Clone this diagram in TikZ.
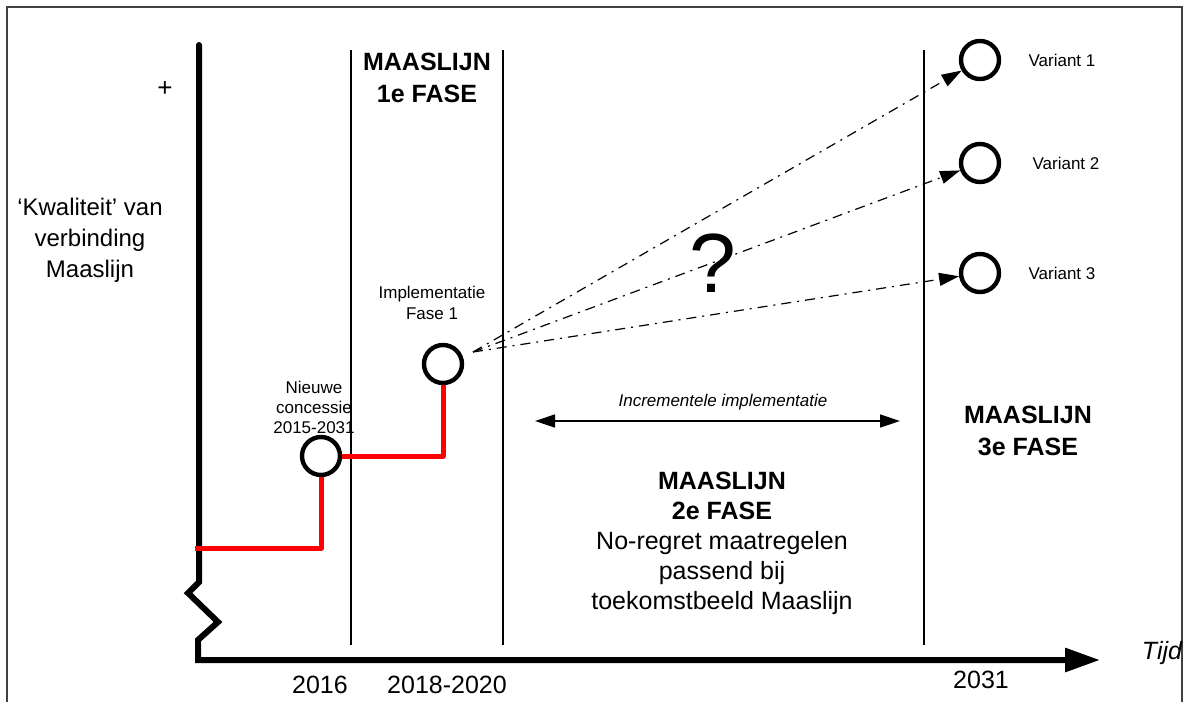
\documentclass[tikz,border=0pt]{standalone}
\usepackage{fontspec}
\setmainfont{Liberation Sans}
\usetikzlibrary{arrows.meta}
\begin{document}
\begin{tikzpicture}[x=0.5pt,y=-0.5pt,
  thinline/.style={line width=0.6pt,black},
  axisline/.style={line width=3pt,black,line cap=round},
  redline/.style={line width=2.5pt,red,line join=round},
  milestone/.style={circle,draw=black,line width=2.2pt,minimum size=19pt,inner sep=0pt,fill=white},
  dashdot/.style={line width=0.6pt,dash pattern=on 5pt off 3pt on 1pt off 3pt,-{Triangle[length=10pt,width=6.5pt]}},
  lbl/.style={inner sep=0pt,align=center,font=\fontsize{8.5}{10.5}\selectfont},
  big/.style={inner sep=0pt,align=center,font=\fontsize{12.5}{15.5}\selectfont},
  bigb/.style={inner sep=0pt,align=center,font=\bfseries\fontsize{12.5}{16}\selectfont}]
\useasboundingbox (0,0) rectangle (1184,702);
% frame
\draw[line width=1pt,black!75] (7,702) -- (7,7) -- (1182,7) -- (1182,702);
% phase separators
\draw[thinline] (351,50) -- (351,645);
\draw[thinline] (503,50) -- (503,645);
\draw[thinline] (924,50) -- (924,645);
% axis
\coordinate (ytop) at (199,45);
\coordinate (xend) at (1100,660);
\draw[axisline,-{Triangle[length=17.5pt,width=11.5pt]}] (ytop) -- (199,582) -- (188,593) -- (218,622) -- (198,640) -- (198,660) -- (xend);
% milestones
\node[milestone] (c1) at (321,456) {};
\node[milestone] (c2) at (443,364) {};
\node[milestone] (v1) at (980,60) {};
\node[milestone] (v2) at (980,163) {};
\node[milestone] (v3) at (980,273) {};
% red path
\coordinate (rstart) at (195,548);
\draw[redline] (rstart) -| (c1.south);
\draw[redline] (c1.east) -| (c2.south);
% dash-dot arrows
\coordinate (src) at (473,352);
\draw[dashdot] (src) -- (v1);
\draw[dashdot] (src) -- (v2);
\draw[dashdot] (src) -- (v3);
% incremental arrow
\coordinate (ia) at (535,421);
\coordinate (ib) at (900,421);
\draw[line width=0.7pt,{Triangle[length=10pt,width=6.5pt]}-{Triangle[length=10pt,width=6.5pt]}] (ia) -- (ib);
\node[lbl,font=\itshape\fontsize{8.5}{10.5}\selectfont] (incr) at (723,402) {Incrementele implementatie};
% texts
\node[inner sep=0pt,font=\fontsize{13}{14}\selectfont] (plus) at (165,89) {+};
\node[inner sep=0pt,align=center,font=\fontsize{12}{15.5}\selectfont] (kw) at (90,240) {‘Kwaliteit’ van\\verbinding\\Maaslijn};
\node[bigb] (f1) at (427,78) {MAASLIJN\\1e FASE};
\node[lbl,font=\fontsize{8.5}{10}\selectfont] (nc) at (314,407) {Nieuwe\\concessie\\2015-2031};
\node[lbl] (impl) at (432,303) {Implementatie\\Fase 1};
\node[lbl] (lv1) at (1062,60) {Variant 1};
\node[lbl] (lv2) at (1066,163) {Variant 2};
\node[lbl] (lv3) at (1062,273) {Variant 3};
\node[inner sep=0pt,font=\fontsize{42}{42}\selectfont] (q) at (713,263) {?};
\node[bigb] (f3) at (1028,431) {MAASLIJN\\3e FASE};
\node[inner sep=0pt,align=center,font=\fontsize{12.5}{15}\selectfont] (f2) at (722,543) {\bfseries MAASLIJN\\\bfseries 2e FASE\\\mdseries No-regret maatregelen\\passend bij\\toekomstbeeld Maaslijn};
\node[big] (y2016) at (320,685) {2016};
\node[big] (y2018) at (447,685) {2018-2020};
\node[big] (y2031) at (981,680) {2031};
\node[big,font=\itshape\fontsize{12.5}{15}\selectfont] (tijd) at (1162,653) {Tijd};
\end{tikzpicture}
\end{document}
